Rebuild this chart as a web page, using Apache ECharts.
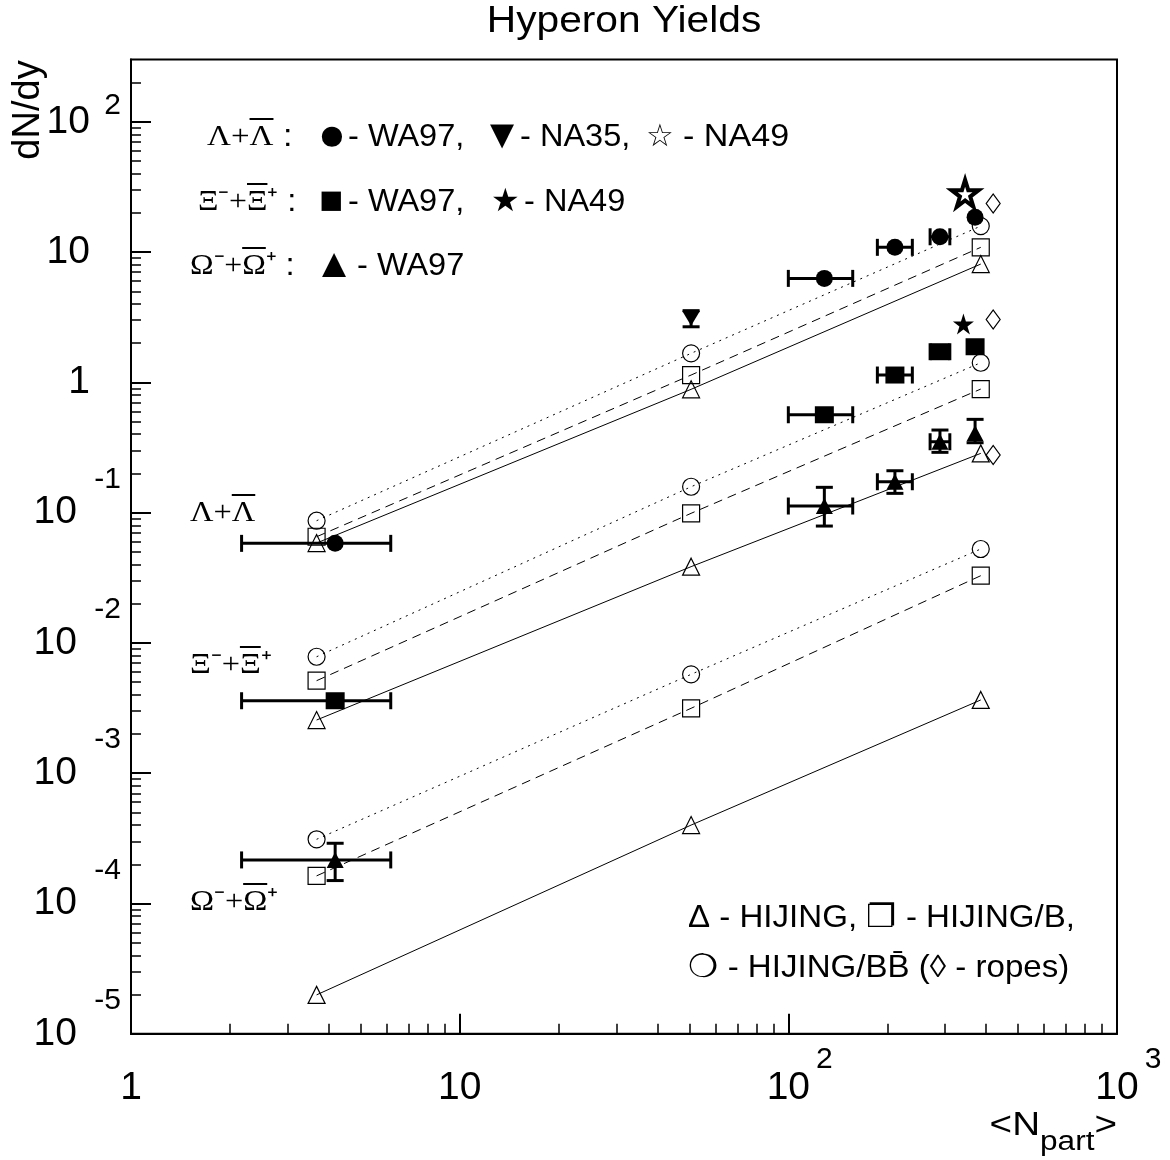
<!DOCTYPE html>
<html><head><meta charset="utf-8">
<script src="https://cdn.jsdelivr.net/npm/echarts@6/dist/echarts.min.js"></script>
<style>html,body{margin:0;padding:0;background:#fff}#chart{width:1170px;height:1160px}</style>
</head><body><div id="chart"></div>
<script>
// ---------------- DATA ----------------
// Model calculations (HIJING, HIJING/B, HIJING/BBbar) at three <Npart> values
const nPartModel = [3.67, 50.6, 385];
const lamHijing   = [0.0584, 0.884, 8.09];
const lamHijingB  = [0.0653, 1.138, 10.87];
const lamHijingBB = [0.0867, 1.670, 15.83];
const xiHijing    = [0.00256, 0.0385, 0.285];
const xiHijingB   = [0.00513, 0.0988, 0.888];
const xiHijingBB  = [0.00783, 0.158, 1.414];
const omHijing    = [1.99e-5, 4.0e-4, 3.65e-3];
const omHijingB   = [1.63e-4, 3.15e-3, 0.0328];
const omHijingBB  = [3.11e-4, 5.74e-3, 0.0526];

// HIJING/BBbar with ropes (Lambda, Xi, Omega)
const nPartRopes = [420, 420, 420];
const ropesYield = [23.6, 3.04, 0.277];

// WA97 data
const nPartWA97   = [4.18, 128.7, 211, 289.3, 370];
const nPartWA97Lo = [2.17, 100, 186.6, 270, null];
const nPartWA97Hi = [6.17, 157, 238.4, 310, null];
const lamWA97 = [0.0581, 6.28, 10.87, 13.1, 18.5];
const xiWA97  = [0.0036, 0.564, 1.138, 1.718, 1.876];
const omWA97   = [2.16e-4, 0.1124, 0.1726, 0.350, 0.406];
const omWA97Lo = [1.50e-4, 0.0789, 0.1406, 0.2903, 0.344];
const omWA97Hi = [2.90e-4, 0.1564, 0.2097, 0.4305, 0.52];

// NA35 (Lambda) and NA49 (Lambda, Xi)
const nPartNA35 = [50.6];
const lamNA35 = [3.10];
const lamNA35Lo = [2.67];
const lamNA35Hi = [3.55];
const nPartNA49Lam = [345];
const lamNA49 = [28.2];
const nPartNA49Xi = [341];
const xiNA49 = [2.80];

// Axis ticks / labels
const xTickValues = [1, 10, 100, 1000];
const xTickBase = ['1', '10', '10', '10'];
const xTickExp = ['', '', '2', '3'];
const yTickValues = [1e-5, 1e-4, 1e-3, 1e-2, 1e-1, 1, 10, 100];
const yTickBase = ['10', '10', '10', '10', '10', '1', '10', '10'];
const yTickExp = ['-5', '-4', '-3', '-2', '-1', '', '', '2'];
const xMinorTicks = [];
for (let e = 0; e <= 2; e++) for (let k = 2; k <= 9; k++) xMinorTicks.push(k * Math.pow(10, e));
const yMinorTicks = [];
for (let e = -5; e <= 1; e++) for (let k = 2; k <= 9; k++) yMinorTicks.push(k * Math.pow(10, e));
yMinorTicks.push(200);

// ---------------- HELPERS ----------------
const SANS = '"Liberation Sans", Arial, Helvetica, sans-serif';
const SERIF = '"Liberation Serif", "Times New Roman", serif';
const zip = (xs, ys) => xs.map((x, i) => [x, ys[i]]);
function idxOf(vals, v) {
  const lv = Math.log10(v);
  for (let i = 0; i < vals.length; i++) if (Math.abs(Math.log10(vals[i]) - lv) < 1e-6) return i;
  return -1;
}

function modelLine(ys, symbol, dash) {
  return {
    type: 'line', data: zip(nPartModel, ys), symbol: symbol, symbolSize: 17,
    showSymbol: true, z: 2, silent: true,
    lineStyle: { color: '#000', width: 1, type: dash },
    itemStyle: { color: 'transparent', borderColor: '#000', borderWidth: 1.2, opacity: 1 },
    emphasis: { disabled: true }
  };
}
function markers(xs, ys, symbol, size, extra) {
  return Object.assign({
    type: 'scatter', data: zip(xs, ys), symbol: symbol, symbolSize: size, z: 5, silent: true,
    itemStyle: { color: '#000', opacity: 1 }, emphasis: { disabled: true }
  }, extra || {});
}
function errorBars(xs, ys, xlo, xhi, ylo, yhi) {
  const data = xs.map((x, i) => [x, ys[i],
    xlo && xlo[i] != null ? xlo[i] : 0, xhi && xhi[i] != null ? xhi[i] : 0,
    ylo && ylo[i] != null ? ylo[i] : 0, yhi && yhi[i] != null ? yhi[i] : 0]);
  return {
    type: 'custom', data: data, z: 4, silent: true,
    encode: { x: 0, y: 1 },
    renderItem: function (params, api) {
      const x = api.value(0), y = api.value(1);
      const c = api.coord([x, y]);
      const kids = [];
      const cap = 8.5, st = { stroke: '#000', lineWidth: 3 };
      const xl = api.value(2), xh = api.value(3), yl = api.value(4), yh = api.value(5);
      if (xl > 0 && xh > 0) {
        const p1 = api.coord([xl, y]), p2 = api.coord([xh, y]);
        kids.push({ type: 'line', shape: { x1: p1[0], y1: c[1], x2: p2[0], y2: c[1] }, style: st });
        kids.push({ type: 'line', shape: { x1: p1[0], y1: c[1] - cap, x2: p1[0], y2: c[1] + cap }, style: st });
        kids.push({ type: 'line', shape: { x1: p2[0], y1: c[1] - cap, x2: p2[0], y2: c[1] + cap }, style: st });
      }
      if (yl > 0 && yh > 0) {
        const q1 = api.coord([x, yl]), q2 = api.coord([x, yh]);
        kids.push({ type: 'line', shape: { x1: c[0], y1: q1[1], x2: c[0], y2: q2[1] }, style: st });
        kids.push({ type: 'line', shape: { x1: c[0] - cap, y1: q1[1], x2: c[0] + cap, y2: q1[1] }, style: st });
        kids.push({ type: 'line', shape: { x1: c[0] - cap, y1: q2[1], x2: c[0] + cap, y2: q2[1] }, style: st });
      }
      return { type: 'group', children: kids };
    }
  };
}
const STAR = 'path://M50,0 L61.2,34.5 L97.6,34.5 L68.2,55.9 L79.4,90.5 L50,69.1 L20.6,90.5 L31.8,55.9 L2.4,34.5 L38.8,34.5 Z';

// Greek label with an overbar on one letter (bar drawn as the background of an invisible copy of that letter)
const greekRich = {
  h:   { fontSize: 30, fontFamily: SERIF, fill: 'transparent', color: 'transparent', lineHeight: 6 },
  bar: { fontSize: 30, fontFamily: SERIF, fill: 'transparent', color: 'transparent', backgroundColor: '#000', height: 2, lineHeight: 6 },
  g:   { fontSize: 30, fontFamily: SERIF, fill: '#000', color: '#000', lineHeight: 30 },
  t:   { fontSize: 31, fontFamily: SANS, fill: '#000', color: '#000', lineHeight: 30 }
};
function greekText(prefix, barred, suffix, trailer) {
  return '{h|' + prefix + '}{bar|' + barred + '}\n{g|' + prefix + barred + suffix + '}' + (trailer ? '{t|' + trailer + '}' : '');
}
function txt(x, y, text, size, align, font, sx) {
  return { type: 'text', x: x, y: y, scaleX: sx || 1.05, silent: true,
    style: { text: text, fontSize: size, fontFamily: font || SANS, fill: '#000', align: align, verticalAlign: 'middle' } };
}

// ---------------- CHART ----------------
const chart = echarts.init(document.getElementById('chart'), null, { renderer: 'canvas' });
const option = {
  animation: false,
  backgroundColor: '#fff',
  grid: { left: 131, right: 53, top: 59.6, bottom: 126.2, show: true, borderColor: '#000', borderWidth: 2, backgroundColor: 'transparent' },
  xAxis: [
    {
      type: 'log', logBase: 10, min: 1, max: 1000, position: 'bottom',
      axisLine: { show: true, lineStyle: { color: '#000', width: 2 } },
      axisTick: { show: true, inside: true, length: 20, lineStyle: { color: '#000', width: 2 }, customValues: xTickValues },
      splitLine: { show: false },
      axisLabel: {
        show: true, customValues: xTickValues, margin: 16, showMinLabel: true, showMaxLabel: true,
        formatter: function (v) {
          const i = idxOf(xTickValues, v);
          if (i < 0) return '';
          return xTickExp[i] ? '{s|' + xTickExp[i] + '}\n{b|' + xTickBase[i] + '}' : '{e| }\n{b|' + xTickBase[i] + '}';
        },
        rich: {
          s: { fontSize: 30, lineHeight: 20, fontFamily: SANS, color: '#000', align: 'center', padding: [0, 0, 0, 72] },
          e: { fontSize: 30, lineHeight: 20, fontFamily: SANS, color: '#000', align: 'center' },
          b: { fontSize: 39, lineHeight: 36, fontFamily: SANS, color: '#000', align: 'center' }
        }
      }
    },
    {
      type: 'log', logBase: 10, min: 1, max: 1000, position: 'bottom',
      axisLine: { show: false },
      axisTick: { show: true, inside: true, length: 10, lineStyle: { color: '#000', width: 1.5 }, customValues: xMinorTicks },
      axisLabel: { show: false }, splitLine: { show: false }
    }
  ],
  yAxis: [
    {
      type: 'log', logBase: 10, min: 1e-5, max: 300, position: 'left',
      axisLine: { show: true, lineStyle: { color: '#000', width: 2 } },
      axisTick: { show: true, inside: true, length: 20, lineStyle: { color: '#000', width: 2 }, customValues: yTickValues },
      splitLine: { show: false },
      axisLabel: {
        show: true, customValues: yTickValues, margin: 10, showMinLabel: true, showMaxLabel: true,
        formatter: function (v) {
          const i = idxOf(yTickValues, v);
          if (i < 0) return '';
          const ex = yTickExp[i];
          if (!ex) return '{e| }\n{bp|' + yTickBase[i] + '}\n{e| }';
          if (ex.charAt(0) === '-') return '{s|' + ex + '}\n{bn|' + yTickBase[i] + '}\n{e| }';
          return '{s2|' + ex + '}\n{b2|' + yTickBase[i] + '}\n{e2| }';
        },
        rich: {
          s:  { fontSize: 30, lineHeight: 28, fontFamily: SANS, color: '#000', align: 'right' },
          e:  { fontSize: 30, lineHeight: 28, fontFamily: SANS, color: '#000', align: 'right' },
          bn: { fontSize: 39, lineHeight: 38, fontFamily: SANS, color: '#000', align: 'right', padding: [0, 44, 0, 0] },
          bp: { fontSize: 39, lineHeight: 38, fontFamily: SANS, color: '#000', align: 'right', padding: [0, 31, 0, 0] },
          s2: { fontSize: 30, lineHeight: 13, fontFamily: SANS, color: '#000', align: 'right' },
          e2: { fontSize: 30, lineHeight: 13, fontFamily: SANS, color: '#000', align: 'right' },
          b2: { fontSize: 39, lineHeight: 20, fontFamily: SANS, color: '#000', align: 'right', padding: [0, 31, 0, 0] }
        }
      }
    },
    {
      type: 'log', logBase: 10, min: 1e-5, max: 300, position: 'left',
      axisLine: { show: false },
      axisTick: { show: true, inside: true, length: 10, lineStyle: { color: '#000', width: 1.5 }, customValues: yMinorTicks },
      axisLabel: { show: false }, splitLine: { show: false }
    }
  ],
  series: [
    // models: HIJING (solid, triangles), HIJING/B (dashed, squares), HIJING/BBbar (dotted, circles)
    modelLine(lamHijing, 'triangle', 'solid'),
    modelLine(lamHijingB, 'rect', [9, 6]),
    modelLine(lamHijingBB, 'circle', [2, 5]),
    modelLine(xiHijing, 'triangle', 'solid'),
    modelLine(xiHijingB, 'rect', [9, 6]),
    modelLine(xiHijingBB, 'circle', [2, 5]),
    modelLine(omHijing, 'triangle', 'solid'),
    modelLine(omHijingB, 'rect', [9, 6]),
    modelLine(omHijingBB, 'circle', [2, 5]),
    // ropes
    markers(nPartRopes, ropesYield, 'diamond', [14, 19], { itemStyle: { color: 'transparent', borderColor: '#000', borderWidth: 1.2, opacity: 1 } }),
    // error bars
    errorBars(nPartWA97, lamWA97, nPartWA97Lo, nPartWA97Hi, null, null),
    errorBars(nPartWA97, xiWA97, nPartWA97Lo, nPartWA97Hi, null, null),
    errorBars(nPartWA97, omWA97, nPartWA97Lo, nPartWA97Hi, omWA97Lo, omWA97Hi),
    errorBars(nPartNA35, lamNA35, null, null, lamNA35Lo, lamNA35Hi),
    // data markers
    markers(nPartWA97, lamWA97, 'circle', 17),
    markers(nPartWA97, xiWA97, 'rect', [19, 17]),
    markers(nPartWA97, omWA97, 'triangle', [17, 16]),
    markers(nPartNA35, lamNA35, 'triangle', [18, 15], { symbolRotate: 180 }),
    markers(nPartNA49Lam, lamNA49, STAR, 27, { itemStyle: { color: '#fff', borderColor: '#000', borderWidth: 4, opacity: 1 } }),
    markers(nPartNA49Xi, xiNA49, STAR, 21)
  ],
  graphic: [
    { type: 'text', x: 624, y: 22, scaleX: 1.1, silent: true,
      style: { text: 'Hyperon Yields', fontSize: 37, fontFamily: SANS, fill: '#000', align: 'center', verticalAlign: 'middle' } },
    { type: 'text', x: 29, y: 110, rotation: Math.PI / 2, silent: true,
      style: { text: 'dN/dy', fontSize: 38, fontFamily: SANS, fill: '#000', align: 'center', verticalAlign: 'middle' } },
    { type: 'text', x: 1117, y: 1109, scaleX: 1.17, silent: true,
      style: { text: '{m|<N}{p|part}{m|>}', align: 'right', verticalAlign: 'top',
        rich: { m: { fontSize: 33, lineHeight: 36, fontFamily: SANS, fill: '#000', color: '#000', verticalAlign: 'top' },
                p: { fontSize: 27, lineHeight: 27, fontFamily: SANS, fill: '#000', color: '#000', verticalAlign: 'top', padding: [20, 0, 0, 0] } } } },
    // top-left legend: species
    { type: 'text', x: 207, y: 134, scaleX: 1.1, silent: true,
      style: { text: greekText('\u039B+', '\u039B', '', ' :'), align: 'left', verticalAlign: 'middle', rich: greekRich } },
    { type: 'text', x: 198, y: 199, scaleX: 1.06, silent: true,
      style: { text: greekText('\u039E\u207B+', '\u039E', '\u207A', ' :'), align: 'left', verticalAlign: 'middle', rich: greekRich } },
    { type: 'text', x: 190, y: 263, scaleX: 1.06, silent: true,
      style: { text: greekText('\u03A9\u207B+', '\u03A9', '\u207A', ' :'), align: 'left', verticalAlign: 'middle', rich: greekRich } },
    // top-left legend: experiments (symbol glyphs and texts)
    txt(332, 137, '\u25CF', 47, 'center', SANS, 1),
    txt(348, 137, '- WA97,', 31, 'left'),
    txt(502, 137, '\u25BC', 41, 'center', SANS, 1),
    txt(520, 137, '- NA35,', 31, 'left'),
    txt(660, 137, '\u2606', 31, 'center', SANS, 1),
    txt(683, 137, '- NA49', 31, 'left', SANS, 1.1),
    txt(331, 202, '\u25A0', 40, 'center', SANS, 1),
    txt(348, 202, '- WA97,', 31, 'left'),
    txt(505, 202, '\u2605', 32, 'center', SANS, 1),
    txt(524, 202, '- NA49', 31, 'left'),
    txt(334, 266, '\u25B2', 41, 'center', SANS, 1),
    txt(357, 266, '- WA97', 31, 'left'),
    // in-plot species labels
    { type: 'text', x: 190, y: 510, scaleX: 1.08, silent: true,
      style: { text: greekText('\u039B+', '\u039B', '', ''), align: 'left', verticalAlign: 'middle', rich: greekRich } },
    { type: 'text', x: 190, y: 662, scaleX: 1.08, silent: true,
      style: { text: greekText('\u039E\u207B+', '\u039E', '\u207A', ''), align: 'left', verticalAlign: 'middle', rich: greekRich } },
    { type: 'text', x: 190, y: 899, scaleX: 1.08, silent: true,
      style: { text: greekText('\u03A9\u207B+', '\u03A9', '\u207A', ''), align: 'left', verticalAlign: 'middle', rich: greekRich } },
    // bottom-right model legend
    txt(688, 918, '\u0394 - HIJING, \u2750 - HIJING/B,', 31.5, 'left'),
    txt(688, 968, '\u274D - HIJING/BB\u0304 (\u25CA - ropes)', 31.5, 'left')
  ]
};
chart.setOption(option);
</script>
</body></html>
